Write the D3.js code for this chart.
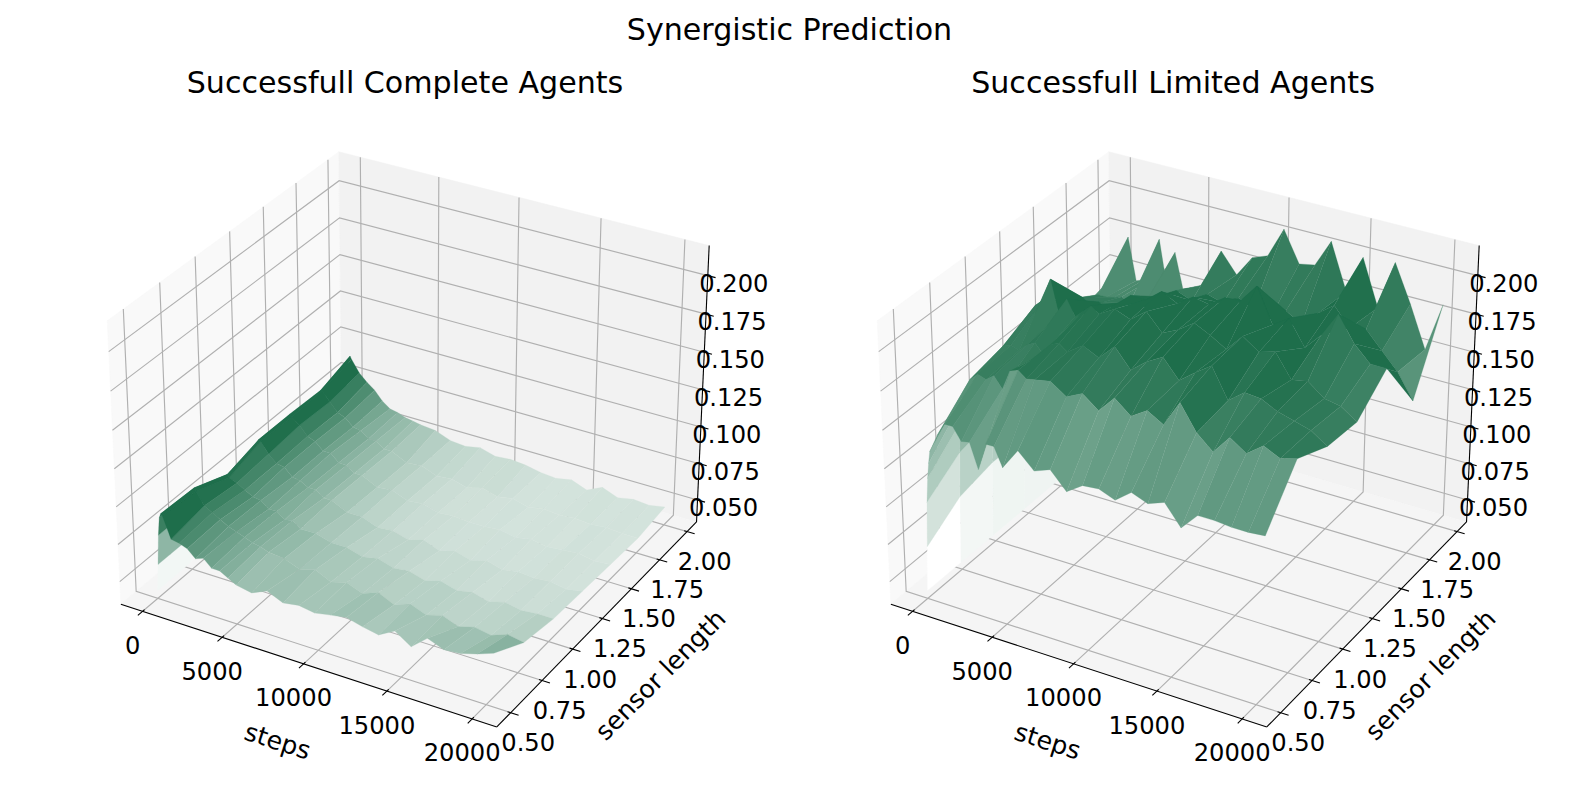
<!DOCTYPE html>
<html><head><meta charset="utf-8">
<script src="https://cdn.jsdelivr.net/npm/d3@7"></script>
<style>html,body{margin:0;background:#fff}svg{display:block}text{font-family:"DejaVu Sans";fill:#000}</style>
</head><body><svg id="c" width="1579" height="794"></svg>
<script>
const steps=[0,100,200,300,400,500,1000,1500,2000,2500,3000,3500,4000,4500,5000,5960,6920,7890,8850,9810,10780,11740,12700,13660,14630,15590,16550,17510,18480,19440,20400];
const sensors=[0.5,0.74,0.98,1.22,1.46,1.70,1.94];
const stepTicks=[0,5000,10000,15000,20000];
const sensorTicks=[0.5,0.75,1.0,1.25,1.5,1.75,2.0];
const valueTicks=[0.05,0.075,0.1,0.125,0.15,0.175,0.2];
const completeRows=[
[.040,.058,.078,.090,.093,.092,.078,.077,.075,.070,.072,.067,.067,.064,.061,.059,.0636,.059,.0607,.059,.061,.0627,.060,.058,.064,.057,.066,.062,.063,.066,.070],
[.040,.058,.078,.090,.092,.090,.082,.079,.076,.073,.071,.069,.067,.066,.064,.063,.059,.062,.057,.060,.056,.060,.055,.059,.055,.058,.054,.057,.055,.059,.057],
[.040,.055,.072,.081,.083,.081,.079,.076,.073,.072,.068,.068,.064,.065,.061,.061,.058,.058,.055,.057,.054,.055,.052,.055,.052,.054,.051,.054,.052,.053,.053],
[.040,.060,.078,.087,.089,.088,.081,.076,.075,.070,.069,.066,.066,.062,.062,.057,.057,.053,.054,.051,.054,.050,.053,.050,.053,.050,.052,.051,.052,.050,.052],
[.040,.060,.079,.087,.089,.087,.083,.077,.075,.070,.070,.065,.065,.061,.061,.056,.057,.053,.054,.051,.052,.051,.051,.052,.050,.052,.050,.051,.052,.050,.051],
[.040,.060,.078,.086,.088,.088,.082,.076,.074,.069,.068,.064,.064,.060,.060,.055,.056,.052,.053,.050,.053,.050,.052,.049,.051,.050,.051,.050,.051,.050,.050],
[.040,.062,.082,.092,.095,.093,.085,.080,.076,.070,.066,.065,.063,.062,.061,.060,.056,.055,.057,.054,.055,.054,.052,.051,.053,.049,.054,.050,.052,.051,.053]];
const limitedRows=[
[.040,.070,.100,.116,.126,.134,.146,.155,.155,.147,.148,.132,.150,.150,.138,.152,.142,.146,.135,.142,.143,.139,.147,.143,.147,.134,.145,.145,.144,.144,.145],
[.040,.085,.115,.135,.148,.155,.165,.170,.168,.172,.165,.178,.180,.176,.177,.179,.172,.177,.169,.180,.1715,.178,.172,.189,.173,.164,.176,.169,.177,.172,.175],
[.040,.090,.120,.140,.155,.160,.170,.172,.170,.175,.178,.172,.180,.182,.178,.185,.180,.190,.178,.186,.192,.180,.188,.195,.176,.184,.183,.178,.175,.172,.165],
[.040,.090,.125,.150,.165,.172,.180,.185,.200,.178,.190,.180,.185,.190,.186,.192,.188,.196,.185,.190,.197,.192,.186,.197,.190,.193,.178,.180,.172,.170,.163],
[.040,.088,.125,.145,.155,.160,.168,.170,.172,.168,.172,.170,.172,.176,.182,.182,.190,.185,.192,.190,.197,.198,.210,.188,.195,.179,.190,.206,.190,.180,.180],
[.040,.085,.115,.135,.145,.150,.155,.155,.156,.158,.155,.157,.158,.156,.165,.172,.168,.175,.172,.178,.175,.170,.178,.172,.182,.190,.178,.180,.169,.158,.142],
[.040,.080,.115,.135,.150,.156,.178,.150,.152,.154,.182,.150,.176,.153,.155,.160,.185,.172,.186,.190,.210,.190,.192,.210,.180,.205,.175,.207,.183,.156,.188]];
const panels=[
 {title:"Successfull Complete Agents",rows:completeRows,cx:414,tc:405,vmin:.0423,vmax:.085},
 {title:"Successfull Limited Agents",rows:limitedRows,cx:1184,tc:1173,vmin:.040,vmax:.185}];
const stepLim=[-1390,21425],sensorLim=[.3915,2.0865],valueLim=[.0347,.2193];
const SCALE=3618,CY=425.5,DIST=10,TILT=.15,STEEP=4,STEEP_FADE=.1;
const svg=d3.select("#c");
const bx=d3.scaleLinear().domain(stepLim).range([-.5952,.5952]);
const by=d3.scaleLinear().domain(sensorLim).range([-.5952,.5952]);
const bz=d3.scaleLinear().domain(valueLim).range([-.4464,.4464]);
const el=30*Math.PI/180,az=-60*Math.PI/180;
const w=[Math.cos(el)*Math.cos(az),Math.cos(el)*Math.sin(az),Math.sin(el)];
const uN=Math.hypot(w[0],w[1]);const u=[-w[1]/uN,w[0]/uN,0];
const v=[w[1]*u[2]-w[2]*u[1],w[2]*u[0]-w[0]*u[2],w[0]*u[1]-w[1]*u[0]];
const dot=(a,b)=>a[0]*b[0]+a[1]*b[1]+a[2]*b[2];
const line=d3.line();
function panel(p){
 const g=svg.append("g");
 const cam=(s,l,h)=>{const q=[bx(s),by(l),bz(h)];return {x:dot(q,u),y:dot(q,v),d:DIST-dot(q,w)};};
 const P=(s,l,h)=>{const c=cam(s,l,h);return [p.cx+SCALE*c.x/c.d,CY-SCALE*c.y/c.d];};
 const [x0,x1]=stepLim,[y0,y1]=sensorLim,[z0,z1]=valueLim;
 const poly=(pts,fill)=>g.append("path").attr("d",line(pts)+"Z").attr("fill",fill).attr("stroke",fill).attr("stroke-width",.5);
 poly([P(x0,y0,z0),P(x0,y1,z0),P(x0,y1,z1),P(x0,y0,z1)],"#f9f9f9");
 poly([P(x0,y1,z0),P(x1,y1,z0),P(x1,y1,z1),P(x0,y1,z1)],"#f2f2f2");
 poly([P(x0,y0,z0),P(x1,y0,z0),P(x1,y1,z0),P(x0,y1,z0)],"#f5f5f5");
 const grid=pts=>g.append("path").attr("d",line(pts)).attr("fill","none").attr("stroke","#b0b0b0").attr("stroke-width",1.15);
 stepTicks.forEach(t=>grid([P(t,y0,z0),P(t,y1,z0),P(t,y1,z1)]));
 sensorTicks.forEach(t=>grid([P(x1,t,z0),P(x0,t,z0),P(x0,t,z1)]));
 valueTicks.forEach(t=>grid([P(x0,y0,t),P(x0,y1,t),P(x1,y1,t)]));
 const ink=pts=>g.append("path").attr("d",line(pts)).attr("fill","none").attr("stroke","#000").attr("stroke-width",1.1);
 ink([P(x0,y0,z0),P(x1,y0,z0)]);ink([P(x1,y0,z0),P(x1,y1,z0)]);ink([P(x1,y1,z0),P(x1,y1,z1)]);
 const label=(pt,dx,dy,txt)=>g.append("text").attr("x",pt[0]+dx).attr("y",pt[1]+dy).attr("text-anchor","middle").attr("dominant-baseline","central").attr("font-size",24.2).text(txt);
 const dy=y1-y0,dx=x1-x0;
 stepTicks.forEach(t=>{ink([P(t,y0+.008*dy,z0),P(t,y0-.02*dy,z0)]);label(P(t,y0,z0),-10,34.5,d3.format("d")(t));});
 sensorTicks.forEach(t=>{ink([P(x1-.008*dx,t,z0),P(x1+.02*dx,t,z0)]);label(P(x1,t,z0),17.5,30.5,d3.format(".2f")(t));});
 valueTicks.forEach(t=>{ink([P(x1-.008*dx,y1,t),P(x1+.02*dx,y1,t)]);label(P(x1,y1,t),26,8,d3.format(".3f")(t));});
 const lab=(pt,dx,dy,rot,txt)=>g.append("text").attr("transform",`translate(${pt[0]+dx},${pt[1]+dy}) rotate(${rot})`).attr("text-anchor","middle").attr("dominant-baseline","central").attr("font-size",25.2).text(txt);
 lab(P(10000,y0,z0),-26,77.5,17.8,"steps");
 lab(P(x1,1.25,z0),58,56.5,-45,"sensor length");
 g.append("text").attr("x",p.tc).attr("y",82).attr("text-anchor","middle").attr("dominant-baseline","central").attr("font-size",30.1).text(p.title);
 const tScale=d3.scaleLinear().domain([p.vmin,p.vmax]).range([0,1]);
 const color=d3.interpolateRgb("#ffffff","#1e6e4b");
 const cells=[];
 for(let j=0;j<sensors.length-1;j++)for(let i=0;i<steps.length-1;i++){
  const c=[[i,j],[i+1,j],[i+1,j+1],[i,j+1]];
  const rise=(bz(p.rows[j+1][i])+bz(p.rows[j+1][i+1])-bz(p.rows[j][i])-bz(p.rows[j][i+1]))/2/(by(sensors[j+1])-by(sensors[j]));
  const climb=(bz(p.rows[j][i+1])+bz(p.rows[j+1][i+1])-bz(p.rows[j][i])-bz(p.rows[j+1][i]))/2/(bx(steps[i+1])-bx(steps[i]));
  const mean=d3.mean(c,([a,b])=>p.rows[b][a]);
  const t=Math.max(0,Math.min(1,tScale(mean)-TILT*rise-(climb>STEEP?STEEP_FADE:0)));
  const pts=c.map(([a,b])=>P(steps[a],sensors[b],p.rows[b][a]));
  const depth=d3.mean(c,([a,b])=>cam(steps[a],sensors[b],p.rows[b][a]).d);
  cells.push({pts,depth,fill:color(t)});
 }
 cells.sort((a,b)=>b.depth-a.depth);
 g.append("g").selectAll("path").data(cells).join("path").attr("d",d=>line(d.pts)+"Z").attr("fill",d=>d.fill).attr("stroke",d=>d.fill).attr("stroke-width",.25);
}
panels.forEach(panel);
svg.append("text").attr("x",789.5).attr("y",29).attr("text-anchor","middle").attr("dominant-baseline","central").attr("font-size",30.1).text("Synergistic Prediction");
</script></body></html>
